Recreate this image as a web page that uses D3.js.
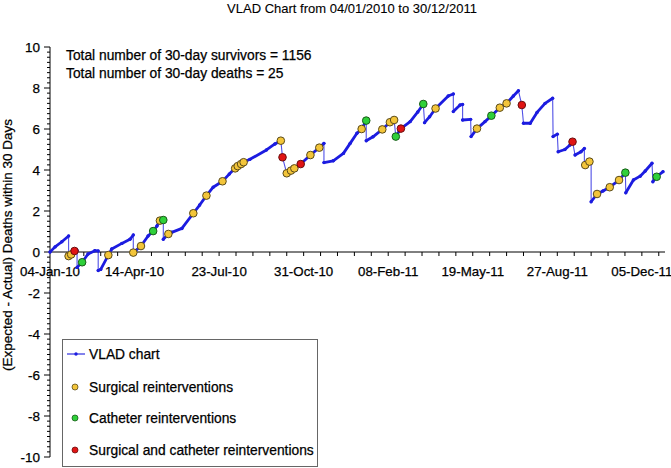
<!DOCTYPE html>
<html><head><meta charset="utf-8">
<script src="https://cdn.jsdelivr.net/npm/d3@7"></script>
<style>body{margin:0;background:#fff}svg{display:block;font-family:"Liberation Sans",Arial,sans-serif}svg text{fill:#000;stroke:#000;stroke-width:0.25px}</style>
</head><body>
<svg id="c" width="671" height="468"></svg>
<script>
// Day offsets are counted from the chart start date (04-Jan-2010)
const startDate = new Date(2010, 0, 4);
const endDate = new Date(2011, 11, 30);
const titleText = "VLAD Chart from 04/01/2010 to 30/12/2011";
const annotations = ["Total number of 30-day survivors = 1156", "Total number of 30-day deaths = 25"];
const yTicks = [-10, -8, -6, -4, -2, 0, 2, 4, 6, 8, 10];
const xLabelDays = [0, 100, 200, 300, 400, 500, 600, 700];
const legendLabels = ["VLAD chart", "Surgical reinterventions", "Catheter reinterventions", "Surgical and catheter reinterventions"];

// VLAD line vertices [day, value]
const vladDays = [0,6,14,22,22,29,32,32,38,45,53,57,57,60,69,73,85,94.6,98.5,98.5,107.6,116,122,126.5,130,134,134,140,144,156,169.5,177,185,193,204,212,219,229,236.5,256,266,273,275,280,285,289,296.5,308,318.5,324,324,335,347,355,363,368.6,374,374,382,393,402,407,409,415,426,435,441.5,443,449,456,471,477,477,485,488,488,497.5,498,505,514.5,522,532,540,548,554,558,560,568,576,585.5,594.5,595,600,601,609,615,618,621,628,632,632,638,640,640,647,654,662,673,680.5,681,690,698,704,712,713,717.5,725];
const vladValues = [0,0.25,0.5,0.78,-0.2,0.05,0.07,-0.75,-0.5,-0.1,0.06,0.05,-0.9,-0.85,-0.15,0.15,0.42,0.62,0.83,-0.03,0.29,0.78,1.02,1.27,1.53,1.56,0.62,0.88,0.96,1.15,1.89,2.29,2.75,3.16,3.45,3.8,4.08,4.38,4.52,4.98,5.27,5.43,4.62,3.84,3.97,4.08,4.29,4.73,5.09,5.30,4.36,4.45,4.81,5.3,5.79,6.0,6.41,5.43,5.62,5.98,6.33,6.44,5.63,6.02,6.36,6.83,7.22,6.31,6.6,7.0,7.61,7.71,6.85,7.17,7.2,6.44,6.47,5.63,6.02,6.36,6.65,7.04,7.25,7.61,7.87,7.17,6.28,6.28,6.81,7.25,7.5,5.63,5.75,4.89,5.0,5.22,5.38,4.73,4.89,5.05,4.24,4.41,4.41,2.45,2.83,2.98,3.16,3.51,3.87,2.89,3.51,3.7,3.95,4.33,3.43,3.67,3.92];

// Markers [day, value]
const surgicalDays = [22,25,69,98.5,107.6,130,140,169.5,185,204,219,222,226,229,273,280,285,289,308,318.5,368.6,393,402,407,456,505,532,540,633,638,647,662,673];
const surgicalValues = [-0.2,-0.12,-0.15,-0.03,0.29,1.53,0.88,1.89,2.75,3.45,4.08,4.19,4.29,4.38,5.43,3.84,3.97,4.08,4.73,5.09,6.0,5.98,6.33,6.44,7.0,6.02,7.04,7.25,4.24,4.41,2.83,3.16,3.51];
const catheterDays = [38,122,134,374,409,441.5,522,680.5,717.5];
const catheterValues = [-0.5,1.02,1.56,6.41,5.63,7.22,6.65,3.87,3.67];
const bothDays = [29,275,296.5,415,558,618];
const bothValues = [0.05,4.62,4.29,6.02,7.17,5.38];

const svg = d3.select("#c");
const fmt = d3.timeFormat("%d-%b-%y");
const dayToDate = d => new Date(startDate.getTime() + d * 86400000);

const x = d3.scaleTime().domain([startDate, endDate]).range([50, 663]);
const y = d3.scaleLinear().domain([-10, 10]).range([457, 47]);

// Title
svg.append("text").attr("x", 352).attr("y", 13).attr("text-anchor", "middle")
  .attr("font-size", 13).style("stroke-width", "0.1px").text(titleText);

// Y axis
const yAxis = svg.append("g");
yAxis.append("line").attr("x1", 50).attr("x2", 50).attr("y1", y(10)).attr("y2", y(-10)).attr("stroke", "#000");
d3.range(-10, 10.001, 0.25).forEach(v => {
  const major = Math.abs(v / 2 - Math.round(v / 2)) < 1e-6;
  yAxis.append("line").attr("x1", major ? 44 : 47).attr("x2", 50).attr("y1", y(v)).attr("y2", y(v)).attr("stroke", "#000");
});
yTicks.forEach(v => {
  yAxis.append("text").attr("x", 40).attr("y", y(v) + 5).attr("text-anchor", "end").attr("font-size", 13.5).text(v);
});
svg.append("text").attr("transform", `translate(12,${245}) rotate(-90)`).attr("text-anchor", "middle")
  .attr("font-size", 13.5).text("(Expected - Actual) Deaths within 30 Days");

// X axis at y = 0
const xAxis = svg.append("g");
xAxis.append("line").attr("x1", 50).attr("x2", 665).attr("y1", y(0)).attr("y2", y(0)).attr("stroke", "#000");
d3.range(20, 726, 20).forEach(d => {
  xAxis.append("line").attr("x1", x(dayToDate(d))).attr("x2", x(dayToDate(d))).attr("y1", y(0)).attr("y2", y(0) + 4).attr("stroke", "#000");
});
xLabelDays.forEach(d => {
  xAxis.append("text").attr("x", x(dayToDate(d))).attr("y", 276).attr("text-anchor", "middle")
    .attr("font-size", 13.3).text(fmt(dayToDate(d)));
});

// Annotations
annotations.forEach((t, i) => {
  svg.append("text").attr("x", 66).attr("y", 60 + i * 18).attr("font-size", 13.8).text(t);
});

// VLAD line
const pts = vladDays.map((d, i) => [x(dayToDate(d)), y(vladValues[i])]);
const line = d3.line();
svg.append("path").attr("d", line(pts)).attr("fill", "none").attr("stroke", "#5050e6").attr("stroke-width", 1.1);
for (let i = 1; i < pts.length; i++) {
  if (vladValues[i] >= vladValues[i - 1] - 0.2) {
    svg.append("line").attr("x1", pts[i-1][0]).attr("y1", pts[i-1][1]).attr("x2", pts[i][0]).attr("y2", pts[i][1])
      .attr("stroke", "#1c1ce0").attr("stroke-width", 2.8).attr("stroke-linecap", "round");
  }
}
svg.append("g").selectAll("circle").data(pts).join("circle")
  .attr("cx", d => d[0]).attr("cy", d => d[1]).attr("r", 1.7).attr("fill", "#1c1ce0");

// Markers
function markers(days, vals, fill, stroke) {
  svg.append("g").selectAll("circle").data(days).join("circle")
    .attr("cx", d => x(dayToDate(d))).attr("cy", (d, i) => y(vals[i])).attr("r", 3.8)
    .attr("fill", fill).attr("stroke", stroke).attr("stroke-width", 1);
}
markers(surgicalDays, surgicalValues, "#f3c53a", "#5a4a18");
markers(catheterDays, catheterValues, "#2fd03a", "#185a18");
markers(bothDays, bothValues, "#e01414", "#6a0e0e");

// Legend
const lg = svg.append("g");
lg.append("rect").attr("x", 62.5).attr("y", 339.5).attr("width", 255).attr("height", 127)
  .attr("fill", "#fff").attr("stroke", "#666");
const rowY = [354, 387, 418, 450];
lg.append("line").attr("x1", 67).attr("x2", 85).attr("y1", rowY[0]).attr("y2", rowY[0]).attr("stroke", "#3030e0").attr("stroke-width", 1.2);
lg.append("circle").attr("cx", 76).attr("cy", rowY[0]).attr("r", 1.7).attr("fill", "#1c1ce0");
const lgFill = [null, "#f3c53a", "#2fd03a", "#e01414"], lgStroke = [null, "#5a4a18", "#185a18", "#6a0e0e"];
for (let i = 1; i < 4; i++) {
  lg.append("circle").attr("cx", 75).attr("cy", rowY[i]).attr("r", 3).attr("fill", lgFill[i]).attr("stroke", lgStroke[i]).attr("stroke-width", 0.8);
}
legendLabels.forEach((t, i) => {
  lg.append("text").attr("x", 89).attr("y", rowY[i] + 5).attr("font-size", 13.8).text(t);
});
</script>
</body></html>
